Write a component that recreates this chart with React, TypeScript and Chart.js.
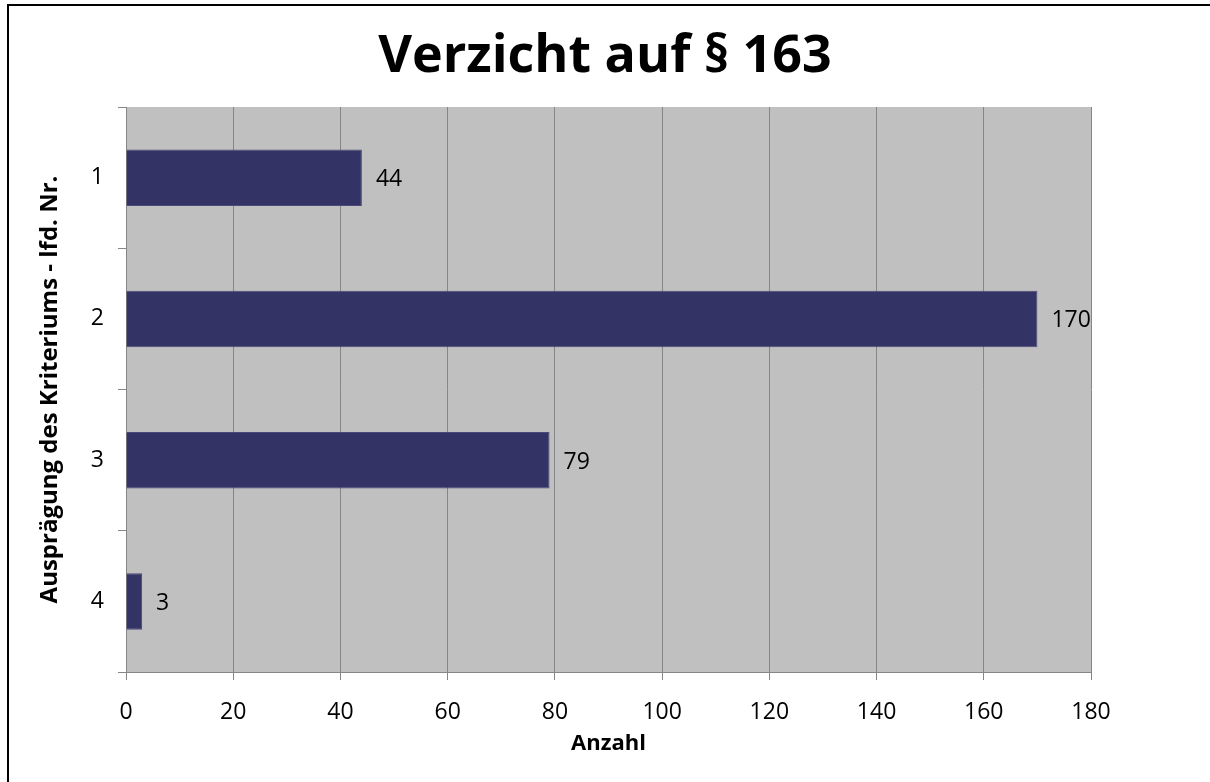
import React, { useEffect, useRef } from "react";
import { Chart, registerables } from "chart.js";

Chart.register(...registerables);

const categories = ["1", "2", "3", "4"];
const values = [44, 170, 79, 3];
const xTicks = [0, 20, 40, 60, 80, 100, 120, 140, 160, 180];

const FONT = "'Open Sans', 'DejaVu Sans', sans-serif";

const plotBg = {
  id: "plotBg",
  beforeDraw(chart: any) {
    const { ctx, chartArea } = chart;
    if (!chartArea) return;
    ctx.save();
    ctx.fillStyle = "#C0C0C0";
    ctx.fillRect(chartArea.left, chartArea.top, chartArea.right - chartArea.left, chartArea.bottom - chartArea.top);
    ctx.restore();
  },
};

const valueLabels = {
  id: "valueLabels",
  afterDatasetsDraw(chart: any) {
    const { ctx } = chart;
    const meta = chart.getDatasetMeta(0);
    ctx.save();
    ctx.font = `23px ${FONT}`;
    ctx.fillStyle = "#000";
    ctx.textAlign = "left";
    ctx.textBaseline = "middle";
    meta.data.forEach((bar: any, i: number) => {
      ctx.fillText(String(values[i]), bar.x + 14, bar.y + 2);
    });
    ctx.restore();
  },
};

export default function App() {
  const ref = useRef<HTMLCanvasElement | null>(null);

  useEffect(() => {
    if (!ref.current) return;
    const chart = new Chart(ref.current, {
      type: "bar",
      data: {
        labels: categories,
        datasets: [
          {
            data: values,
            backgroundColor: "#333366",
            borderColor: "#4a4a7a",
            borderWidth: 1,
            barPercentage: 0.4,
            categoryPercentage: 1,
          },
        ],
      },
      options: {
        indexAxis: "y",
        responsive: false,
        animation: false,
        layout: { padding: 0 },
        plugins: {
          legend: { display: false },
          tooltip: { enabled: false },
          title: {
            display: true,
            text: "Verzicht auf § 163",
            color: "#000",
            font: { family: FONT, size: 52, weight: "bold", lineHeight: 1.2 },
            padding: { top: 26, bottom: 18.6 },
          },
        },
        scales: {
          x: {
            type: "linear",
            min: 0,
            max: 180,
            afterBuildTicks: (scale: any) => {
              scale.ticks = xTicks.map((v) => ({ value: v }));
            },
            afterFit: (scale: any) => {
              scale.height = 110;
            },
            grid: {
              color: "#868686",
              lineWidth: 1,
              tickLength: 8,
              drawOnChartArea: true,
            },
            border: { display: true, color: "#868686", width: 1 },
            ticks: {
              color: "#000",
              padding: 19,
              font: { family: FONT, size: 23 },
              maxRotation: 0,
            },
            title: {
              display: true,
              text: "Anzahl",
              color: "#000",
              font: { family: FONT, size: 22, weight: "bold" },
              padding: { top: 0, bottom: 25 },
            },
          },
          y: {
            type: "category",
            afterFit: (scale: any) => {
              scale.width = 126;
            },
            grid: {
              color: "#868686",
              drawOnChartArea: false,
              tickLength: 8,
              offset: true,
            },
            border: { display: true, color: "#868686", width: 1 },
            ticks: {
              color: "#000",
              padding: 14,
              font: { family: FONT, size: 23 },
            },
            title: {
              display: true,
              text: "Ausprägung des Kriteriums - lfd. Nr.",
              color: "#000",
              font: { family: FONT, size: 24, weight: "bold" },
              padding: { top: 36, bottom: 0 },
            },
          },
          yRight: {
            type: "category",
            position: "right",
            display: true,
            afterFit: (scale: any) => {
              scale.width = 119;
            },
            grid: { display: false, drawTicks: false },
            border: { display: false },
            ticks: { display: false },
            title: { display: false },
          },
        },
      },
      plugins: [plotBg, valueLabels],
    } as any);
    return () => chart.destroy();
  }, []);

  return (
    <div
      style={{
        position: "fixed",
        left: 0,
        top: 0,
        width: 1210,
        height: 782,
        background: "#fff",
        overflow: "hidden",
      }}
    >
      <canvas ref={ref} width={1210} height={782} style={{ display: "block", position: "absolute", left: 0, top: 0 }} />
      <div
        style={{
          position: "absolute",
          left: 7,
          top: 4,
          width: 1220,
          height: 800,
          borderTop: "2px solid #000",
          borderLeft: "2px solid #000",
          pointerEvents: "none",
        }}
      />
    </div>
  );
}
